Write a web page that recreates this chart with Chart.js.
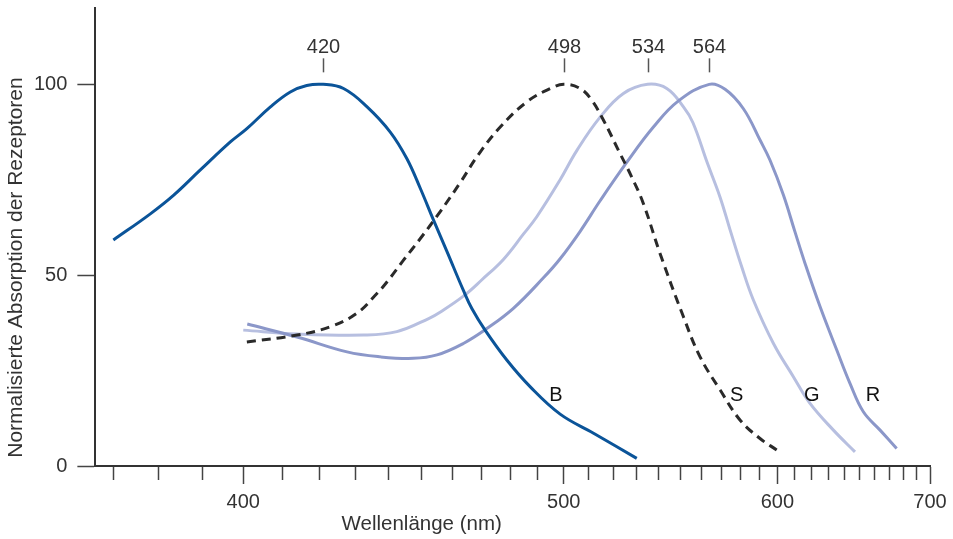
<!DOCTYPE html>
<html>
<head>
<meta charset="utf-8">
<script src="https://cdn.jsdelivr.net/npm/chart.js@4.4.1/dist/chart.umd.min.js"></script>
<style>
  html, body { margin: 0; padding: 0; background: #fff; }
  #wrap { width: 953px; height: 539px; position: relative; }
</style>
</head>
<body>
<div id="wrap"><canvas id="chart"></canvas></div>
<script>
// absorption spectra of the four photoreceptors, wavelength (nm) / normalised absorption
const blueNm = [370, 378, 383.3, 389.5, 396.8, 400.9, 406.9, 412.1, 416.5, 421, 426.7, 433.5, 440.4, 445.5, 449.7, 453.9, 458.2, 463.7, 466.6, 471.1, 478.8, 487.2, 498.6, 511.9, 530.2];
const blueVal = [59.2, 66, 70.9, 77.5, 84.9, 88.4, 94.1, 98, 99.7, 100, 98.9, 94.1, 87.5, 80.5, 72.7, 64.4, 56.3, 46, 41.2, 35.6, 27.7, 20.8, 13.6, 8.6, 2];

const rodNm = [400.9, 413.9, 423, 430.5, 436.4, 439.4, 444.5, 449.7, 456, 462.6, 468.8, 476.4, 486, 494.8, 500, 506.5, 511.2, 516, 522.3, 528, 533.1, 540.6, 551.5, 559.5, 569.5, 579.8, 590.4, 599.6];
const rodVal = [32.5, 34.3, 36.5, 40, 45.2, 48.2, 54, 59.6, 66.6, 74.2, 81.6, 88.8, 95.4, 98.9, 100, 98.9, 95.8, 90.6, 82.7, 75.7, 68.8, 55.7, 39.1, 28.6, 19.9, 12, 7.2, 4.2];

const greenNm = [400, 413.9, 432.5, 442.4, 452.5, 456, 463.7, 470, 477.6, 484.8, 489.7, 498.6, 505.2, 514.6, 524.4, 535, 543.7, 551.5, 556, 563, 569.4, 574.6, 580.6, 586.8, 597.8, 609.1, 618.9, 633.2, 647];
const greenVal = [35.6, 34.6, 34.3, 35.2, 38.7, 40.3, 44.5, 48.8, 54.2, 60.8, 65.3, 75, 82.7, 91.4, 97.6, 100, 98.9, 94.1, 90, 79.5, 70.5, 61.8, 52.2, 43.5, 32.1, 23.4, 16.4, 9.4, 3.7];

const redNm = [401, 413.9, 427.7, 437.4, 447.5, 455, 463.7, 471.7, 481.1, 492.2, 498.6, 506.5, 514.6, 525.9, 537.6, 549, 564, 572, 581.5, 590.4, 595.9, 603.4, 610, 616, 625, 635.3, 643.8, 652.5, 663.8, 675.4];
const redVal = [37.2, 33.8, 29.9, 28.6, 28.2, 29.1, 32.1, 36, 41.3, 49.3, 54.3, 61.5, 69.5, 79.6, 88.8, 95.6, 100, 98.7, 93.6, 85.4, 80.1, 71, 61.4, 53, 41.7, 30.4, 21.6, 14.2, 9.4, 4.6];

const peakLabels = ["420", "498", "534", "564"];
const curveLabels = ["B", "S", "G", "R"];
const curveLabelNm = [497, 578, 620, 659];
const curveLabelLevel = 18.5;

const xTicksNm = [370, 380, 390, 400, 410, 420, 430, 440, 450, 460, 470, 480, 490, 500, 510, 520, 530, 540, 550, 560, 570, 580, 590, 600, 610, 620, 630, 640, 650, 660, 670, 680, 690, 700];
const xMajorNm = [400, 500, 600, 700];
const yTicks = [0, 50, 100];

const TEXT = "#333333";
const FONT = '"Liberation Sans", Arial, Helvetica, sans-serif';

// the wavelength axis is linear in 1/lambda
const toAxis = (nm) => 10000 / nm;
const toNm = (v) => Math.round(10000 / v);

function points(nm, val) {
  return nm.map((n, i) => ({ x: toAxis(n), y: val[i] }));
}

function peakNm(nm, val) {
  return nm[val.indexOf(Math.max(...val))];
}

const series = [
  { nm: blueNm, val: blueVal, color: "#0b5499", dash: [], order: 0 },
  { nm: rodNm, val: rodVal, color: "#2a2a2a", dash: [9, 6], order: 1 },
  { nm: greenNm, val: greenVal, color: "#b7bfe0", dash: [], order: 3 },
  { nm: redNm, val: redVal, color: "#8b97c9", dash: [], order: 2 }
];

const annotations = {
  id: "annotations",
  afterDatasetsDraw(chart) {
    const { ctx, chartArea } = chart;
    const x = chart.scales.x;
    const y = chart.scales.y;
    ctx.save();
    ctx.font = "20px " + FONT;
    ctx.fillStyle = TEXT;
    ctx.strokeStyle = "#555";
    ctx.lineWidth = 1.5;
    ctx.textAlign = "center";
    ctx.textBaseline = "alphabetic";

    // peak markers
    series.forEach((s, i) => {
      const px = Math.round(x.getPixelForValue(toAxis(peakNm(s.nm, s.val)))) + 0.5;
      const py = y.getPixelForValue(100);
      ctx.beginPath();
      ctx.moveTo(px, py - 12);
      ctx.lineTo(px, py - 26);
      ctx.stroke();
      ctx.fillText(peakLabels[i], px, py - 31);
    });

    // curve names
    ctx.fillStyle = "#111";
    ctx.textBaseline = "middle";
    curveLabels.forEach((t, i) => {
      ctx.fillText(t, x.getPixelForValue(toAxis(curveLabelNm[i])), y.getPixelForValue(curveLabelLevel));
    });

    // axis titles
    ctx.fillStyle = TEXT;
    ctx.textBaseline = "alphabetic";
    ctx.font = "20.5px " + FONT;
    ctx.fillText("Wellenlänge (nm)", chartArea.left + 0.391 * (chartArea.right - chartArea.left), 530);
    ctx.font = "21px " + FONT;
    ctx.translate(22, y.getPixelForValue(52));
    ctx.rotate(-Math.PI / 2);
    ctx.fillText("Normalisierte Absorption der Rezeptoren", 0, 0);
    ctx.restore();
  }
};

Chart.defaults.font.family = FONT;
Chart.defaults.font.size = 20;
Chart.defaults.color = TEXT;

new Chart(document.getElementById("chart"), {
  type: "scatter",
  data: {
    datasets: series.map((s) => ({
      data: points(s.nm, s.val),
      showLine: true,
      borderColor: s.color,
      borderWidth: 3,
      borderDash: s.dash,
      pointRadius: 0,
      tension: 0.4,
      order: s.order
    }))
  },
  options: {
    responsive: true,
    maintainAspectRatio: false,
    animation: false,
    layout: { padding: { left: 34, right: 23, top: 8, bottom: 19 } },
    plugins: {
      legend: { display: false },
      tooltip: { enabled: false }
    },
    scales: {
      x: {
        type: "linear",
        reverse: true,
        min: toAxis(700),
        max: toAxis(366.2),
        border: { color: "#333", width: 2 },
        grid: {
          drawOnChartArea: false,
          tickLength: 18,
          tickWidth: 1.5,
          tickColor: "#444",
          tickBorderDash: (ctx) =>
            ctx.tick && xMajorNm.includes(toNm(ctx.tick.value)) ? [] : [13, 40]
        },
        afterBuildTicks: (scale) => {
          scale.ticks = xTicksNm.map((nm) => ({ value: toAxis(nm) }));
        },
        ticks: {
          autoSkip: false,
          maxRotation: 0,
          padding: 6,
          color: TEXT,
          callback: (v) => (xMajorNm.includes(toNm(v)) ? String(toNm(v)) : "")
        }
      },
      y: {
        min: 0,
        max: 120,
        border: { color: "#333", width: 2 },
        grid: {
          drawOnChartArea: false,
          // 10px gap next to the label, then an 18px tick mark
          tickLength: 28,
          tickWidth: 1.5,
          tickColor: "#444",
          tickBorderDash: () => [0, 10, 18, 100]
        },
        afterBuildTicks: (scale) => {
          scale.ticks = yTicks.map((v) => ({ value: v }));
        },
        ticks: { padding: 0, color: TEXT, font: { size: 20, lineHeight: 0.2 } }
      }
    }
  },
  plugins: [annotations]
});
</script>
</body>
</html>
